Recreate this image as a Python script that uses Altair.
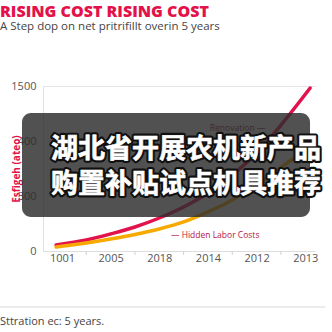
import altair as alt
import pandas as pd

# ---- data -------------------------------------------------------------
year_labels = ["1001", "2005", "2018", "2014", "2012", "2013"]
y_tick_values = [0, 250, 500, 750, 1000, 1250, 1500]
y_tick_labels = ["0", "100", "300", "400", "400", "500", "1500"]

curve_x = [-0.12, 0.5, 1.0, 1.5, 2.0, 2.5, 3.0, 3.5, 4.0, 4.5, 5.1]
renovation = [55, 100, 155, 218, 300, 400, 527, 691, 891, 1145, 1482]
hidden_labor = [36, 73, 109, 150, 200, 264, 355, 464, 600, 760, 945]

tick_positions = [0.5, 1.5, 2.5, 3.5, 4.5]

overlay_lines = ["湖北省开展农机新产品", "购置补贴试点机具推荐"]

# ---- styling ----------------------------------------------------------
FONT = "Open Sans"
CRIMSON = "#e3124b"
ORANGE = "#f6aa00"
GREY_TXT = "#555555"
W, H = 272, 165

df = pd.DataFrame(
    {
        "x": curve_x * 2,
        "value": renovation + hidden_labor,
        "series": ["Renovation"] * len(curve_x) + ["Hidden Labor Costs"] * len(curve_x),
    }
)

label_map = "{" + ",".join(f"'{i}':'{t}'" for i, t in enumerate(year_labels)) + "}"
ylabel_map = "{" + ",".join(f"'{v}':'{t}'" for v, t in zip(y_tick_values, y_tick_labels)) + "}"

x_scale = alt.Scale(domain=[-0.39, 5.2], nice=False, zero=False)
y_scale = alt.Scale(domain=[0, 1500], nice=False)

x_enc = alt.X(
    "x:Q",
    scale=x_scale,
    axis=alt.Axis(
        values=list(range(len(year_labels))),
        labelExpr=f"{label_map}[datum.value]",
        ticks=False,
        grid=False,
        domainColor="#dddddd",
        labelColor=GREY_TXT,
        labelFont=FONT,
        labelFontSize=11,
        labelPadding=1,
        title=None,
    ),
)
y_enc = alt.Y(
    "value:Q",
    scale=y_scale,
    axis=alt.Axis(
        values=y_tick_values,
        labelExpr=f"{ylabel_map}[datum.value]",
        ticks=False,
        gridColor="#e6e6e6",
        domainColor="#e0e0e0",
        labelColor=GREY_TXT,
        labelFont=FONT,
        labelFontSize=11,
        labelPadding=7,
        title="Esfigeh (ateo)",
        titleColor=CRIMSON,
        titleFont=FONT,
        titleFontSize=10,
        titleFontWeight="bold",
        titleX=-27,
        titleY=H / 2,
        titleAngle=270,
        titleAlign="center",
        titleBaseline="middle",
    ),
)

lines = (
    alt.Chart(df)
    .mark_line(interpolate="monotone", strokeCap="round", strokeWidth=3.5)
    .encode(
        x=x_enc,
        y=y_enc,
        color=alt.Color(
            "series:N",
            scale=alt.Scale(domain=["Renovation", "Hidden Labor Costs"], range=[CRIMSON, ORANGE]),
            legend=None,
        ),
        order=alt.Order("x:Q"),
    )
)

ticks = (
    alt.Chart(pd.DataFrame({"x": tick_positions}))
    .mark_rule(color="#d0d0d0", strokeWidth=1)
    .encode(x=alt.X("x:Q", scale=x_scale), y=alt.value(H), y2=alt.value(H + 4))
)

labels_df = pd.DataFrame(
    {
        "x": [4.18, 2.24],
        "value": [1118, 145],
        "text": ["Renovation \u2014", "\u2014 Hidden Labor Costs"],
    }
)
reno_label = (
    alt.Chart(labels_df.iloc[[0]])
    .mark_text(align="right", baseline="middle", font=FONT, fontSize=8.5, color="#8e1c44")
    .encode(x=alt.X("x:Q", scale=x_scale), y=alt.Y("value:Q", scale=y_scale), text="text:N")
)
labor_label = (
    alt.Chart(labels_df.iloc[[1]])
    .mark_text(align="left", baseline="middle", font=FONT, fontSize=8.5, color="#b3154a")
    .encode(x=alt.X("x:Q", scale=x_scale), y=alt.Y("value:Q", scale=y_scale), text="text:N")
)

# caption banner laid over the plot
banner = (
    alt.Chart(pd.DataFrame({"k": [0]}))
    .mark_rect(color="#2b2b2b", opacity=0.82, cornerRadius=9)
    .encode(x=alt.value(-21), x2=alt.value(267), y=alt.value(27), y2=alt.value(131))
)
banner_df = pd.DataFrame({"line": overlay_lines, "row": [0, 1]})
banner_outline = (
    alt.Chart(banner_df)
    .mark_text(
        font="Noto Sans CJK SC", fontSize=27, fontWeight="bold", align="center", baseline="middle",
        fill="#111111", stroke="#111111", strokeWidth=5, strokeJoin="round",
    )
    .transform_calculate(py="datum.row == 0 ? 64 : 99")
    .encode(x=alt.value(143), y=alt.Y("py:Q", scale=None), text="line:N")
)
banner_text = (
    alt.Chart(banner_df)
    .mark_text(
        font="Noto Sans CJK SC", fontSize=27, fontWeight="bold", align="center", baseline="middle",
        fill="#ffffff", stroke="#ffffff", strokeWidth=0.6,
    )
    .transform_calculate(py="datum.row == 0 ? 64 : 99")
    .encode(x=alt.value(143), y=alt.Y("py:Q", scale=None), text="line:N")
)

# footer note below the chart
footer_rule = (
    alt.Chart(pd.DataFrame({"k": [0]}))
    .mark_rule(color="#d9d9d9", strokeWidth=1)
    .encode(x=alt.value(-43), x2=alt.value(282), y=alt.value(221))
)
footer_text = (
    alt.Chart(pd.DataFrame({"t": ["Sttration ec: 5 years."]}))
    .mark_text(align="left", baseline="middle", font=FONT, fontSize=11, color="#444444")
    .encode(x=alt.value(-43), y=alt.value(236), text="t:N")
)

chart = (
    alt.layer(
        lines, ticks, reno_label, labor_label, banner, banner_outline, banner_text,
        footer_rule, footer_text,
    )
    .properties(
        width=W,
        height=H,
        autosize=alt.AutoSizeParams(type="none"),
        padding={"left": 43, "top": 86, "right": 17, "bottom": 81},
        title=alt.TitleParams(
            text="RISING COST RISING COST",
            subtitle="A Step dop on net pritrifillt overin 5 years",
            anchor="start",
            frame="group",
            dx=-43,
            offset=48,
            font=FONT,
            fontSize=16,
            fontWeight=800,
            color=CRIMSON,
            subtitleFont=FONT,
            subtitleFontSize=11.5,
            subtitleColor="#444444",
            subtitlePadding=1,
        ),
    )
    .configure_view(stroke=None)
)

chart.save("out.html", embed_options={"renderer": "svg", "actions": False})
